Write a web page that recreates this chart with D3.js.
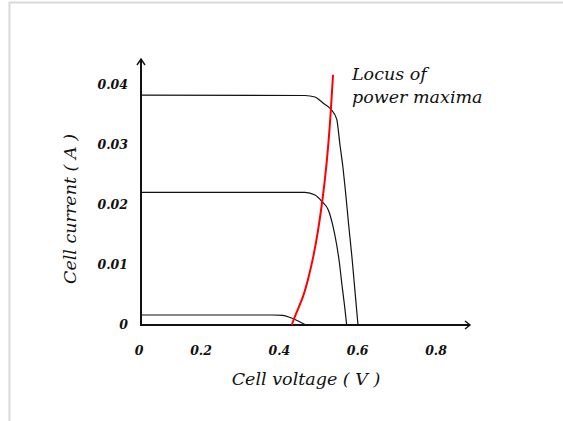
<!DOCTYPE html>
<html>
<head>
<meta charset="utf-8">
<script src="https://cdn.jsdelivr.net/npm/d3@7"></script>
<style>
  body { margin: 0; background: #fff; }
  svg { display: block; }
  .tick-label { font-family: "DejaVu Serif", serif; font-style: italic; font-weight: bold; font-size: 12.5px; fill: #111; }
  .title { font-family: "DejaVu Serif", serif; font-style: italic; font-size: 17.5px; fill: #111; }
</style>
</head>
<body>
<svg id="chart" width="563" height="421"></svg>
<script>
// I-V curves of a solar cell at three light levels: [voltage V, current A]
const curveHigh = [
    [0, 0.0383], [0.4535, 0.03825], [0.481, 0.0380], [0.5032, 0.0370], [0.5245, 0.0360],
    [0.5411, 0.0343], [0.5502, 0.0300], [0.5585, 0.0262], [0.5650, 0.0225], [0.5740, 0.0168],
    [0.5834, 0.0112], [0.5917, 0.0056], [0.600, 0]
];
const curveMid = [
    [0, 0.0221], [0.4535, 0.0221], [0.481, 0.02167], [0.5013, 0.0205], [0.5179, 0.01917],
    [0.530, 0.01667], [0.5411, 0.01333], [0.5483, 0.0105], [0.5557, 0.00667],
    [0.5626, 0.00333], [0.5687, 0]
];
const curveLow = [
    [0, 0.00167], [0.365, 0.00167], [0.3926, 0.00160], [0.412, 0.00125], [0.4286, 0.00083],
    [0.4424, 0.00042], [0.4562, 0]
];
// locus of the maximum power points
const locus = [
    [0.4167, 0], [0.429, 0.0020], [0.4471, 0.00440], [0.4617, 0.0075], [0.4764, 0.0112],
    [0.4900, 0.0158], [0.5013, 0.0205], [0.5135, 0.0267], [0.5245, 0.0350], [0.5309, 0.0417]
];

const xTicks = [0, 0.2, 0.4, 0.6, 0.8];
const yTicks = [0, 0.01, 0.02, 0.03, 0.04];
const xTitle = 'Cell voltage ( V )';
const yTitle = 'Cell current ( A )';
const noteLines = ['Locus of', 'power maxima'];

const svg = d3.select('#chart');

// light frame round the figure
svg.append('path')
    .attr('d', 'M9.5,421 V2.5 H563')
    .attr('fill', 'none')
    .attr('stroke', '#d9d9d9')
    .attr('stroke-width', 2);

const x = d3.scaleLinear().domain([0, 0.6]).range([141, 358]);
const y = d3.scaleLinear().domain([0, 0.04]).range([325, 85]);
// the printed x labels sit a little off the data scale in the original figure
const xLabel = d3.scaleLinear().domain([0.2, 0.8]).range([201, 436]);

const line = d3.line()
    .x(d => x(d[0]))
    .y(d => y(d[1]))
    .curve(d3.curveMonotoneX);

const smooth = d3.line()
    .x(d => x(d[0]))
    .y(d => y(d[1]))
    .curve(d3.curveBasis);

svg.append('g')
    .selectAll('path')
    .data([curveHigh, curveMid, curveLow])
    .enter()
    .append('path')
    .attr('d', line)
    .attr('fill', 'none')
    .attr('stroke', '#111')
    .attr('stroke-width', 1.2);

// axes with open arrowheads
const x0 = x(0), y0 = y(0);
const xEnd = 470, yEnd = 59;
const axes = svg.append('g')
    .attr('fill', 'none')
    .attr('stroke', '#111')
    .attr('stroke-width', 2);
axes.append('path').attr('d', `M${x0},${y0} H${xEnd}`);
axes.append('path').attr('d', `M${x0},${y0 + 1} V${yEnd}`);
axes.append('path')
    .attr('stroke-width', 1.4)
    .attr('d', `M${xEnd - 5},${y0 - 4} L${xEnd},${y0} L${xEnd - 5},${y0 + 4}`);
axes.append('path')
    .attr('stroke-width', 1.4)
    .attr('d', `M${x0 - 4},${yEnd + 6} L${x0},${yEnd} L${x0 + 4},${yEnd + 6}`);

svg.append('path')
    .datum(locus)
    .attr('d', smooth)
    .attr('fill', 'none')
    .attr('stroke', '#ff0000')
    .attr('stroke-width', 2);

// tick labels
svg.append('g')
    .selectAll('text')
    .data(xTicks)
    .enter()
    .append('text')
    .attr('class', 'tick-label')
    .attr('x', d => d === 0 ? x0 - 2 : xLabel(d))
    .attr('y', 355)
    .attr('text-anchor', 'middle')
    .text(d => d === 0 ? '0' : d3.format('.1f')(d));

svg.append('g')
    .selectAll('text')
    .data(yTicks)
    .enter()
    .append('text')
    .attr('class', 'tick-label')
    .attr('x', 128)
    .attr('y', d => y(d) + 3.5)
    .attr('text-anchor', 'end')
    .text(d => d === 0 ? '0' : d3.format('.2f')(d));

// titles
svg.append('text')
    .attr('class', 'title')
    .attr('x', 306)
    .attr('y', 385)
    .attr('text-anchor', 'middle')
    .text(xTitle);

svg.append('text')
    .attr('class', 'title')
    .attr('transform', 'translate(76,209) rotate(-90)')
    .attr('text-anchor', 'middle')
    .text(yTitle);

svg.append('g')
    .selectAll('text')
    .data(noteLines)
    .enter()
    .append('text')
    .attr('class', 'title')
    .attr('x', 352)
    .attr('y', (d, i) => 80 + i * 23)
    .text(d => d);
</script>
</body>
</html>
